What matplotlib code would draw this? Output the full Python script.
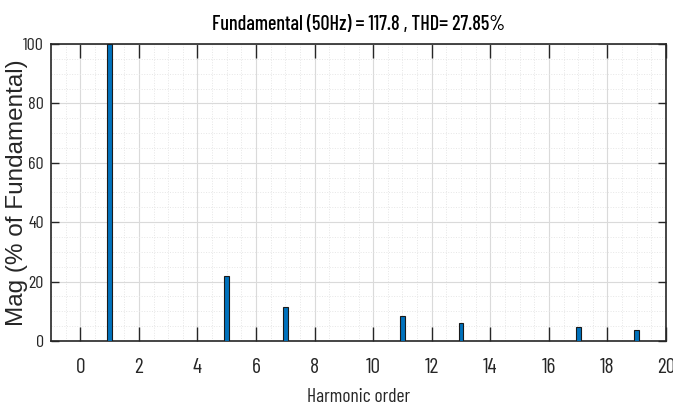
import matplotlib.pyplot as plt
from matplotlib.ticker import MultipleLocator

# harmonic spectrum (% of fundamental)
orders = [0, 1, 5, 7, 11, 13, 17, 19]
mags = [0, 100, 21.8, 11.5, 8.3, 6.2, 4.7, 3.8]
title = 'Fundamental (50Hz) = 117.8 , THD= 27.85%'

narrow = ['Barlow Condensed', 'Roboto Condensed', 'DejaVu Sans']

fig = plt.figure(figsize=(6.73, 4.11), dpi=100)
ax = fig.add_axes([51/673, 1 - 341/411, (666-51)/673, (341-44)/411])

ax.bar(orders, mags, width=0.17, color='#0072BD', edgecolor='#1a1a1a', linewidth=0.8, zorder=3)

ax.set_xlim(-1, 20)
ax.set_ylim(0, 100)
ax.xaxis.set_major_locator(MultipleLocator(2))
ax.xaxis.set_minor_locator(MultipleLocator(0.5))
ax.yaxis.set_major_locator(MultipleLocator(20))
ax.yaxis.set_minor_locator(MultipleLocator(5))

ax.grid(which='major', color='#dadada', linewidth=0.8, zorder=0)
ax.grid(which='minor', color='#e6e6e6', linestyle=':', linewidth=0.7, zorder=0)
ax.set_axisbelow(True)

ax.tick_params(axis='x', which='major', direction='in', length=10, width=1, top=True, color='#262626')
ax.tick_params(axis='y', which='major', direction='in', length=6, width=1, right=True, color='#262626')
ax.tick_params(which='minor', length=0)
ax.tick_params(axis='x', pad=12)
ax.tick_params(axis='y', pad=5)
for lab in ax.get_xticklabels():
    lab.set_family(narrow)
    lab.set_fontsize(15.5)
    lab.set_color('#262626')
for lab in ax.get_yticklabels():
    lab.set_family(narrow)
    lab.set_fontsize(13)
    lab.set_color('#262626')

for s in ax.spines.values():
    s.set_color('#262626')
    s.set_linewidth(1.2)

ax.set_title(title, family=narrow, fontsize=14.5, fontweight='medium', color='black', pad=10)
ax.set_xlabel('Harmonic order', family=narrow, fontsize=14, color='#262626', labelpad=8)
ax.set_ylabel('Mag (% of Fundamental)', family=['Liberation Sans', 'DejaVu Sans'], fontsize=17.5,
              color='#262626')
ax.yaxis.set_label_coords(-23/615, 0.5)

plt.savefig('out.png', dpi=100)
